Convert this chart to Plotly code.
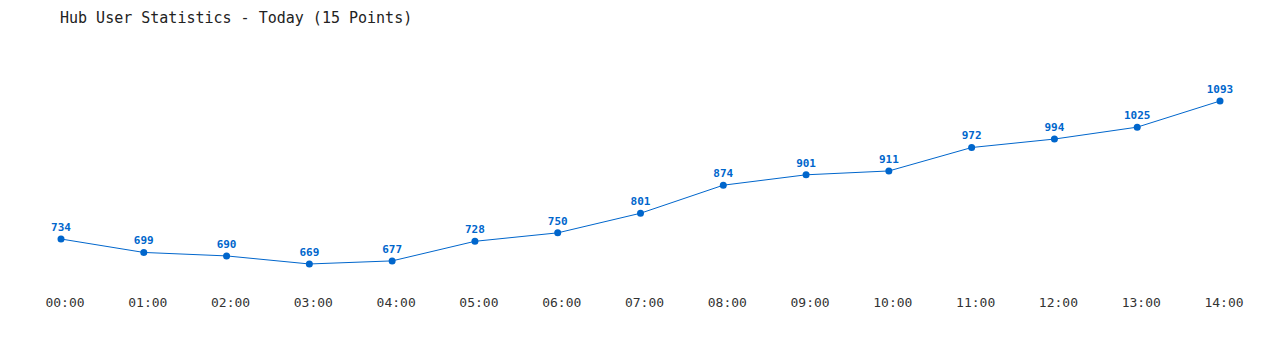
import plotly.graph_objects as go

hours = ["00:00", "01:00", "02:00", "03:00", "04:00", "05:00", "06:00", "07:00",
         "08:00", "09:00", "10:00", "11:00", "12:00", "13:00", "14:00"]
users = [734, 699, 690, 669, 677, 728, 750, 801, 874, 901, 911, 972, 994, 1025, 1093]

x_idx = list(range(len(hours)))

fig = go.Figure()
fig.add_trace(go.Scatter(
    x=x_idx, y=users,
    mode="lines+markers+text",
    line=dict(color="#0066cc", width=1),
    marker=dict(color="#0066cc", size=7),
    text=[str(v) for v in users],
    textposition="top center",
    textfont=dict(family="DejaVu Sans Mono", size=11, color="#0066cc", weight="bold"),
    cliponaxis=False,
    hoverinfo="skip",
))

fig.update_layout(
    width=1280, height=350,
    margin=dict(l=61, r=60, t=60, b=60),
    paper_bgcolor="white", plot_bgcolor="white",
    showlegend=False,
    title=dict(text="Hub User Statistics - Today (15 Points)", x=60/1280, xanchor="left",
               y=1-18/350, yanchor="middle",
               font=dict(family="DejaVu Sans Mono", size=15, color="#222222")),
    xaxis=dict(range=[0, 14], tickmode="array", tickvals=x_idx, ticktext=hours,
               showgrid=False, zeroline=False, showline=False, ticks="",
               ticklabelshift=4, ticklabelstandoff=3,
               tickfont=dict(family="DejaVu Sans Mono", size=13, color="#333333")),
    yaxis=dict(range=[601.3, 1199.7], showgrid=False, zeroline=False, showline=False,
               showticklabels=False, ticks=""),
)

fig.write_html("out.html")
